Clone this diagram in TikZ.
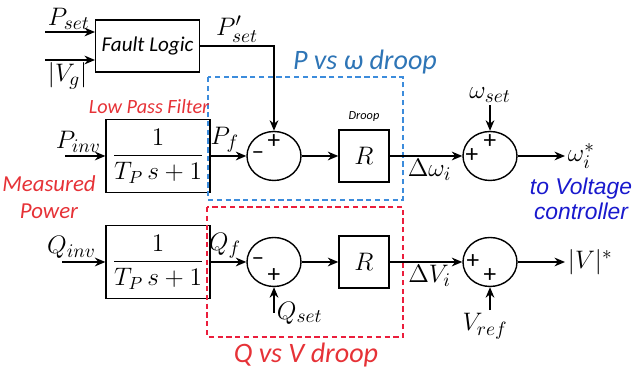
\documentclass[tikz,border=0pt]{standalone}
\usepackage{fontspec}
\usepackage{amsmath}
\newfontfamily\calib{Carlito}
\newfontfamily\arialf{Liberation Sans}
\definecolor{droopblue}{RGB}{46,117,182}
\definecolor{boxblue}{RGB}{60,140,220}
\definecolor{filtred}{RGB}{230,50,55}
\definecolor{boxred}{RGB}{235,30,60}
\definecolor{ctrlblue}{RGB}{25,25,205}
\usetikzlibrary{shapes.geometric, arrows.meta}

\begin{document}
\begin{tikzpicture}[
    block/.style={draw, thick, minimum width=1.84cm, minimum height=1.45cm, align=center, font=\Large},
    sumnode/.style={draw, thick, ellipse, minimum width=1.08cm, minimum height=0.98cm, inner sep=0pt},
    sign/.style={font=\calib\Large, inner sep=0pt},
    sig/.style={font=\fontsize{15}{18}\selectfont, inner sep=1.5pt},
    droopbox/.style={line width=0.65pt, dash pattern=on 3pt off 2pt},
    arrow/.style={->, thick, >={Stealth[length=6pt, width=5pt]}}
  ]
    \useasboundingbox (0,0) rectangle (12.7,7.4);

    \node[block, minimum width=2.06cm, minimum height=1.04cm, font=\calib\itshape\large] (fault) at (2.95,6.48) {Fault Logic};
    \node[block] (lpfp) at (3.16,4.28) {$\dfrac{1}{T_P\,s+1}$};
    \node[block] (lpfq) at (3.16,2.16) {$\dfrac{1}{T_P\,s+1}$};
    \node[sumnode] (sump) at (5.48,4.28) {};
    \node[sumnode] (sumq) at (5.48,2.16) {};
    \node[block, minimum width=1cm, minimum height=1.04cm] (rp) at (7.28,4.28) {$R$};
    \node[block, minimum width=1cm, minimum height=1.04cm] (rq) at (7.28,2.16) {$R$};
    \node[sumnode] (sumw) at (9.80,4.28) {};
    \node[sumnode] (sumv) at (9.80,2.16) {};

    \draw[droopbox, boxblue] (4.16,5.86) rectangle (8.06,3.40);
    \draw[droopbox, boxred] (4.14,3.26) rectangle (8.06,0.66);
    \node[font=\calib\itshape\fontsize{16}{18}\selectfont, text=droopblue] (pdroop) at (7.30,6.16) {P vs ω droop};
    \node[font=\calib\itshape\fontsize{16}{18}\selectfont, text=filtred] (qdroop) at (6.12,0.30) {Q vs V droop};
    \node[font=\calib\itshape\fontsize{11.5}{13}\selectfont, text=filtred] (lpf) at (2.98,5.26) {Low Pass Filter};
    \node[font=\calib\itshape\fontsize{13}{15}\selectfont, text=filtred, align=center] (meas) at (0.98,3.46) {Measured\\Power};
    \node[font=\calib\itshape\scriptsize] (droop) at (7.28,5.06) {Droop};
    \node[font=\arialf\itshape\fontsize{13}{14}\selectfont, text=ctrlblue, align=center] (ctrl) at (11.62,3.42) {to Voltage\\controller};

    \coordinate (pset) at (0.90,6.76);
    \coordinate (vg) at (0.90,6.20);
    \coordinate (pinv) at (1.30,4.28);
    \coordinate (qinv) at (1.24,2.16);
    \coordinate (qin) at (5.48,1.14);
    \node[sig, anchor=south west] (psetl) at (pset) {$P_{set}$};
    \node[sig, anchor=north west] (vgl) at (vg) {$|V_g|$};
    \node[sig, anchor=west] (qset) at (qin) {$Q_{set}$};
    \node[sig] (wset) at (9.80,5.50) {$\omega_{set}$};
    \node[sig] (vref) at (9.70,0.88) {$V_{ref}$};
    \node[sig, anchor=west] (wstar) at (11.30,4.28) {$\omega_i^*$};
    \node[sig, anchor=west] (vstar) at (11.30,2.16) {$|V|^*$};

    \draw[arrow] (pset) -- (pset -| fault.west);
    \draw[arrow] (vg) -- (vg -| fault.west);
    \draw[arrow] (fault.east) -| node[sig, pos=0.25, above] {$P'_{set}$} (sump.north);
    \draw[arrow] (pinv) -- node[sig, pos=0.33, above] {$P_{inv}$} (lpfp);
    \draw[arrow] (qinv) -- node[sig, pos=0.22, above] {$Q_{inv}$} (lpfq);
    \draw[arrow] (lpfp) -- node[sig, pos=0.4, above] {$P_f$} (sump);
    \draw[arrow] (lpfq) -- node[sig, pos=0.4, above] {$Q_f$} (sumq);
    \draw[arrow] (sump) -- (rp);
    \draw[arrow] (sumq) -- (rq);
    \draw[arrow] (rp) -- node[sig, pos=0.55, below] {$\Delta\omega_i$} (sumw);
    \draw[arrow] (rq) -- node[sig, pos=0.55, below] {$\Delta V_i$} (sumv);
    \draw[arrow] (sumw) -- (wstar);
    \draw[arrow] (sumv) -- (vstar);
    \draw[arrow] (wset) -- (sumw);
    \draw[arrow] (qin) -- (sumq.south);
    \draw[arrow] (vref.north -| sumv.south) -- (sumv.south);

    \node[sign] at ([yshift=0.28cm]sump.center) {+};
    \node[sign] at ([xshift=-0.32cm]sump.center) {–};
    \node[sign] at ([yshift=0.28cm]sumw.center) {+};
    \node[sign] at ([xshift=-0.36cm]sumw.center) {+};
    \node[sign] at ([xshift=-0.32cm]sumq.center) {–};
    \node[sign] at ([yshift=-0.28cm]sumq.center) {+};
    \node[sign] at ([xshift=-0.34cm]sumv.center) {+};
    \node[sign] at ([yshift=-0.28cm]sumv.center) {+};
  \end{tikzpicture}
\end{document}
